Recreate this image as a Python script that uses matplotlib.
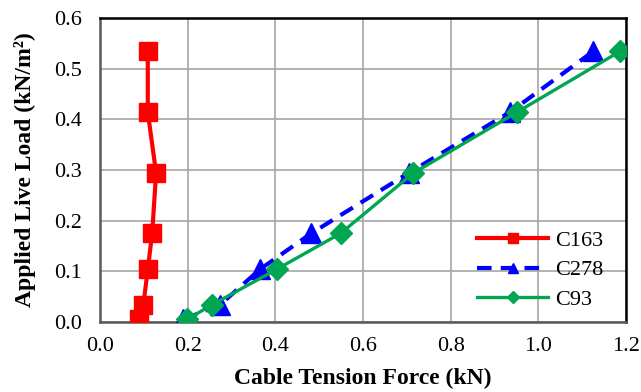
import numpy as np
import matplotlib.pyplot as plt

plt.rcParams['font.family'] = ['Liberation Serif', 'DejaVu Serif']

load = [0.005, 0.034, 0.104, 0.175, 0.294, 0.414, 0.534]

c163_force = [0.089, 0.099, 0.109, 0.119, 0.128, 0.109, 0.109]
c278_force = [0.190, 0.274, 0.365, 0.482, 0.704, 0.935, 1.125]
c93_force = [0.198, 0.256, 0.403, 0.549, 0.715, 0.951, 1.186]

fig = plt.figure(figsize=(6.41, 3.92), dpi=100)
ax = fig.add_axes([100 / 641, 1 - 322 / 392, 526 / 641, 304 / 392])

ax.plot(c163_force, load, color='#ff0000', lw=3, marker='s', ms=13.5,
        label='C163', zorder=3)
ax.plot(c278_force, load, color='#0000ff', lw=3, ls=(0, (3.5, 2.2)), marker='^',
        ms=14, label='C278', zorder=3)
ax.plot(c93_force, load, color='#00a651', lw=2.4, marker='D', ms=11,
        label='C93', zorder=4)

ax.set_xlim(0, 1.2)
ax.set_ylim(0, 0.6)
ax.set_xticks(np.arange(0, 1.21, 0.2))
ax.set_yticks(np.arange(0, 0.61, 0.1))
ax.set_xticklabels(['%.1f' % v for v in np.arange(0, 1.21, 0.2)])
ax.set_yticklabels(['%.1f' % v for v in np.arange(0, 0.61, 0.1)])
ax.grid(True, color='#a6a6a6', lw=1.2)
ax.set_axisbelow(True)
ax.tick_params(length=0, labelsize=16)
ax.tick_params(axis='y', pad=13)
ax.tick_params(axis='x', pad=11)

for s in ['left', 'bottom']:
    ax.spines[s].set_color('#595959')
    ax.spines[s].set_linewidth(1.8)
for s in ['top', 'right']:
    ax.spines[s].set_color('black')
    ax.spines[s].set_linewidth(1.8)

ax.set_xlabel('Cable Tension Force (kN)', fontsize=17, weight='bold', labelpad=8)
ax.set_ylabel('Applied Live Load (kN/m²)', fontsize=17, weight='bold', labelpad=13)

leg = ax.legend(loc='lower left', frameon=False, fontsize=16, handlelength=3.2,
                bbox_to_anchor=(0.717, 0.04), borderaxespad=0, borderpad=0,
                labelspacing=0.4, handletextpad=0.3, markerscale=0.55)

fig.savefig('out.png', dpi=100)
